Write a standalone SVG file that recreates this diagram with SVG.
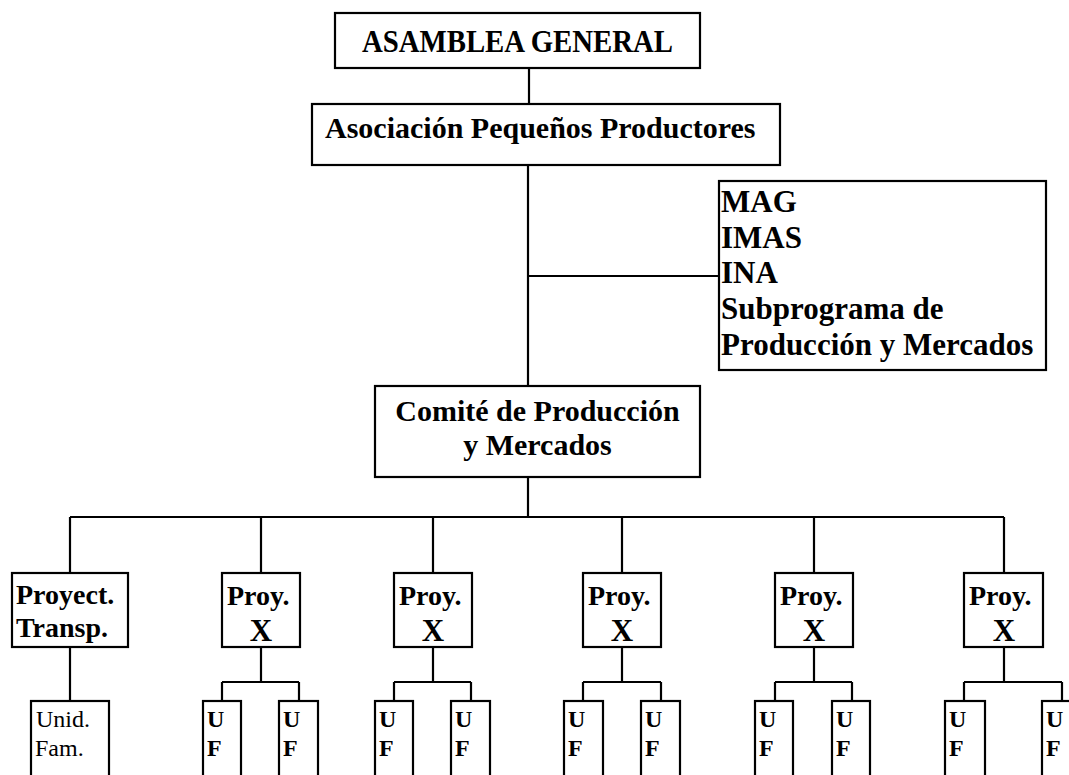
<svg xmlns="http://www.w3.org/2000/svg" width="1069" height="775" viewBox="0 0 1069 775">
<style>
.box{fill:#fff;stroke:#000;stroke-width:2.2}
.ln{fill:none;stroke:#000;stroke-width:2.2}
.t{font-family:"Liberation Serif","Times New Roman",serif;font-weight:bold;fill:#000}
.big{font-size:30px}
.mag{font-size:31px}
.mid{font-size:28px}
.xx{font-size:31px}
.sm{font-size:24px}
.reg{font-weight:normal;font-size:24px}
</style>
<rect width="1069" height="775" fill="#fff"/>
<g id="connectors">
<path class="ln" d="M529 68V104"/>
<path class="ln" d="M528 165V386"/>
<path class="ln" d="M528 276H719"/>
<path class="ln" d="M528 477V517"/>
<path class="ln" d="M70 517H1004"/>
<path class="ln" d="M70 517V573M261 517V573M433 517V573M622 517V573M814 517V573M1004 517V573"/>
<path class="ln" d="M70 647V701"/>
<path class="ln" d="M261 647V682M222 682H299M222 682V701M299 682V701"/>
<path class="ln" d="M433 647V682M394 682H471M394 682V701M471 682V701"/>
<path class="ln" d="M622 647V682M583 682H661M583 682V701M661 682V701"/>
<path class="ln" d="M814 647V682M775 682H852M775 682V701M852 682V701"/>
<path class="ln" d="M1004 647V682M964 682H1062M964 682V701M1062 682V701"/>
</g>
<g id="asamblea">
<rect class="box" x="335" y="13" width="365" height="55"/>
<text class="t" style="font-size:31px" x="362" y="52" textLength="311" lengthAdjust="spacingAndGlyphs">ASAMBLEA GENERAL</text>
</g>
<g id="asociacion">
<rect class="box" x="312" y="104" width="468" height="61"/>
<text class="t big" x="325" y="138">Asociación Pequeños Productores</text>
</g>
<g id="instituciones">
<rect class="box" x="719" y="181" width="327" height="189"/>
<text class="t mag" x="721" y="212">MAG</text>
<text class="t mag" x="721" y="248">IMAS</text>
<text class="t mag" x="721" y="283">INA</text>
<text class="t mag" x="721" y="319">Subprograma de</text>
<text class="t mag" x="721" y="355">Producción y Mercados</text>
</g>
<g id="comite">
<rect class="box" x="375" y="386" width="325" height="91"/>
<text class="t big" x="537.5" y="421" text-anchor="middle">Comité de Producción</text>
<text class="t big" x="537.5" y="455" text-anchor="middle">y Mercados</text>
</g>
<g id="proy-transp">
<rect class="box" x="12" y="573" width="116" height="74"/>
<text class="t mid" x="16" y="604">Proyect.</text>
<text class="t mid" x="16" y="637">Transp.</text>
</g>
<g id="unid-fam">
<rect class="box" x="31" y="701" width="78" height="90"/>
<text class="t reg" x="36" y="727">Unid.</text>
<text class="t reg" x="35" y="756">Fam.</text>
</g>
<g id="proy-1">
<rect class="box" x="222" y="573" width="78" height="74"/>
<text class="t mid" x="227" y="605">Proy.</text>
<text class="t xx" x="261" y="641" text-anchor="middle">X</text>
</g>
<g id="proy-2">
<rect class="box" x="394" y="573" width="78" height="74"/>
<text class="t mid" x="399" y="605">Proy.</text>
<text class="t xx" x="433" y="641" text-anchor="middle">X</text>
</g>
<g id="proy-3">
<rect class="box" x="583" y="573" width="78" height="74"/>
<text class="t mid" x="588" y="605">Proy.</text>
<text class="t xx" x="622" y="641" text-anchor="middle">X</text>
</g>
<g id="proy-4">
<rect class="box" x="775" y="573" width="78" height="74"/>
<text class="t mid" x="780" y="605">Proy.</text>
<text class="t xx" x="814" y="641" text-anchor="middle">X</text>
</g>
<g id="proy-5">
<rect class="box" x="964" y="573" width="79" height="74"/>
<text class="t mid" x="969" y="605">Proy.</text>
<text class="t xx" x="1004" y="641" text-anchor="middle">X</text>
</g>
<g id="uf-1a"><rect class="box" x="203" y="701" width="38" height="90"/><text class="t sm" x="207" y="727">U</text><text class="t sm" x="207" y="756">F</text></g>
<g id="uf-1b"><rect class="box" x="279" y="701" width="39" height="90"/><text class="t sm" x="283" y="727">U</text><text class="t sm" x="283" y="756">F</text></g>
<g id="uf-2a"><rect class="box" x="375" y="701" width="38" height="90"/><text class="t sm" x="379" y="727">U</text><text class="t sm" x="379" y="756">F</text></g>
<g id="uf-2b"><rect class="box" x="451" y="701" width="39" height="90"/><text class="t sm" x="455" y="727">U</text><text class="t sm" x="455" y="756">F</text></g>
<g id="uf-3a"><rect class="box" x="564" y="701" width="39" height="90"/><text class="t sm" x="568" y="727">U</text><text class="t sm" x="568" y="756">F</text></g>
<g id="uf-3b"><rect class="box" x="641" y="701" width="39" height="90"/><text class="t sm" x="645" y="727">U</text><text class="t sm" x="645" y="756">F</text></g>
<g id="uf-4a"><rect class="box" x="755" y="701" width="38" height="90"/><text class="t sm" x="759" y="727">U</text><text class="t sm" x="759" y="756">F</text></g>
<g id="uf-4b"><rect class="box" x="832" y="701" width="38" height="90"/><text class="t sm" x="836" y="727">U</text><text class="t sm" x="836" y="756">F</text></g>
<g id="uf-5a"><rect class="box" x="945" y="701" width="40" height="90"/><text class="t sm" x="949" y="727">U</text><text class="t sm" x="949" y="756">F</text></g>
<g id="uf-5b"><rect class="box" x="1042" y="701" width="40" height="90"/><text class="t sm" x="1046" y="727">U</text><text class="t sm" x="1046" y="756">F</text></g>
</svg>
